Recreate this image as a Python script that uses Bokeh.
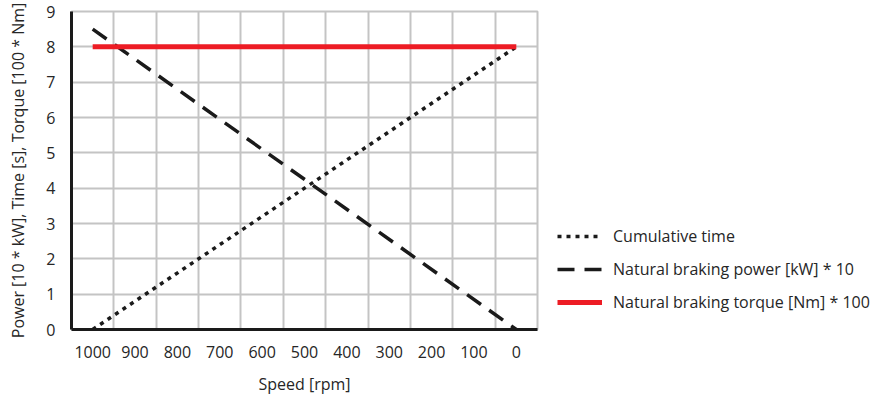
from bokeh.plotting import figure
from bokeh.models import FixedTicker, Range1d, Legend, LegendItem
from bokeh.layouts import row
from bokeh.embed import file_html
from bokeh.resources import INLINE

speed = [1000, 0]
cumulative_time = [0, 8]
braking_power = [8.5, 0]
braking_torque = [8, 8]

series_labels = ["Cumulative time", "Natural braking power [kW] * 10",
                 "Natural braking torque [Nm] * 100"]

x_ticks = [1000, 900, 800, 700, 600, 500, 400, 300, 200, 100, 0]
x_grid = [950, 850, 750, 650, 550, 450, 350, 250, 150, 50, -50]
y_ticks = [0, 1, 2, 3, 4, 5, 6, 7, 8, 9]

FONT = "Open Sans"
TXT = "#262626"
BLACK = "#1a1a1a"
RED = "#ED1C24"
styles = [dict(line_color=BLACK, line_width=3.5, line_dash="4 5"),
          dict(line_color=BLACK, line_width=3.5, line_dash="17 10"),
          dict(line_color=RED, line_width=5)]
series = [cumulative_time, braking_power, braking_torque]

p = figure(width=539, height=397, output_backend="svg", toolbar_location=None,
           x_range=Range1d(1050, -50), y_range=Range1d(0, 9),
           min_border_left=71, min_border_right=2, min_border_top=11, min_border_bottom=62)
p.background_fill_color = "white"
p.border_fill_color = "white"
p.outline_line_color = "#c4c4c4"
p.outline_line_width = 2

p.xaxis.ticker = FixedTicker(ticks=x_ticks)
p.yaxis.ticker = FixedTicker(ticks=y_ticks)
p.xgrid.ticker = FixedTicker(ticks=x_grid)
p.ygrid.ticker = FixedTicker(ticks=y_ticks)
for g in (p.xgrid, p.ygrid):
    g.grid_line_color = "#c4c4c4"
    g.grid_line_width = 2

for ax in (p.xaxis, p.yaxis):
    ax.axis_line_color = BLACK
    ax.axis_line_width = 3
    ax.major_tick_line_color = None
    ax.minor_tick_line_color = None
    ax.major_label_text_font = FONT
    ax.major_label_text_font_size = "16px"
    ax.major_label_text_color = TXT
    ax.axis_label_text_font = FONT
    ax.axis_label_text_font_size = "16px"
    ax.axis_label_text_font_style = "normal"
    ax.axis_label_text_color = TXT
p.xaxis.major_label_standoff = 10
p.yaxis.major_label_standoff = 10
p.xaxis.axis_label = "Speed [rpm]"
p.yaxis.axis_label = "Power [10 * kW], Time [s], Torque [100 * Nm]"
p.xaxis.axis_label_standoff = 12
p.yaxis.axis_label_standoff = 14

for ys, st in zip(series, styles):
    p.line(speed, ys, **st)

# legend panel (its own ranges keep the series out of view; only the legend shows)
q = figure(width=347, height=397, output_backend="svg", toolbar_location=None,
           x_range=Range1d(5000, 6000), y_range=Range1d(100, 200), min_border=0)
q.axis.visible = False
q.grid.visible = False
q.outline_line_color = None
q.border_fill_color = "white"
q.background_fill_color = "white"
items = []
for lab, ys, st in zip(series_labels, series, styles):
    r = q.line(speed, ys, **st)
    items.append(LegendItem(label=lab, renderers=[r]))

legend = Legend(items=items, location=(18, 16), orientation="vertical")
legend.border_line_color = None
legend.background_fill_alpha = 0
legend.padding = 0
legend.margin = 0
legend.glyph_width = 45
legend.glyph_height = 20
legend.label_height = 20
legend.spacing = 11
legend.label_standoff = 11
legend.label_text_font = FONT
legend.label_text_font_size = "16px"
legend.label_text_color = TXT
q.add_layout(legend, "center")

layout = row(p, q)
open("out.html", "w").write(file_html(layout, INLINE))
